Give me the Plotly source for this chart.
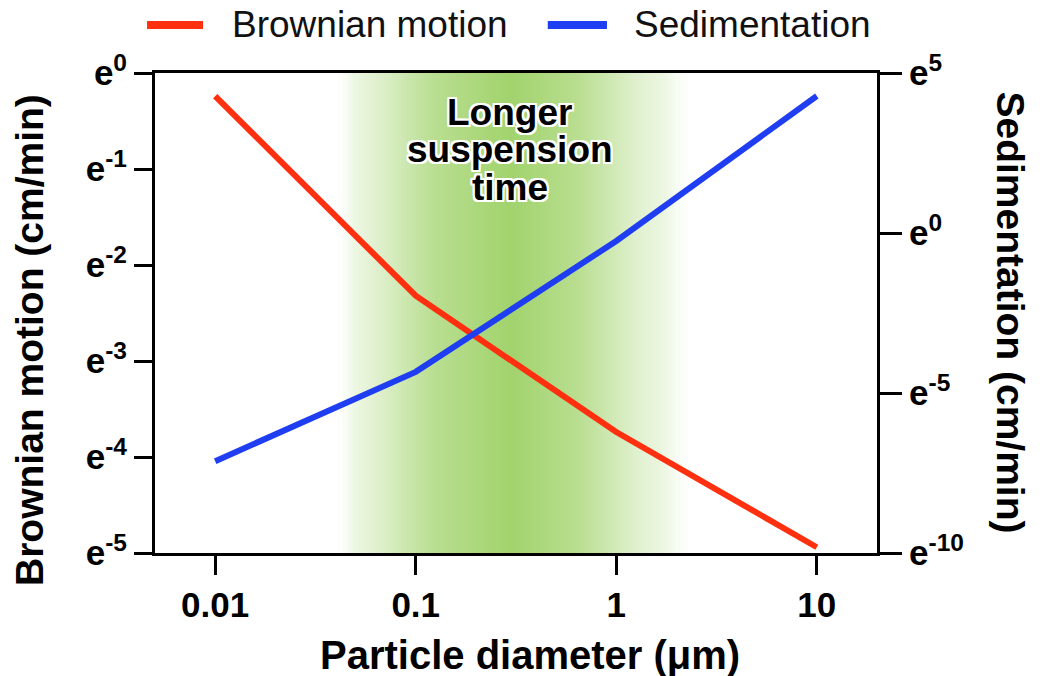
import plotly.graph_objects as go

# ---- data ----
diameter_um = [0.01, 0.1, 1, 10]
brownian_ln = [-0.24, -2.32, -3.74, -4.94]      # ln(cm/min)
sedimentation_ln = [-7.13, -4.34, -0.25, 4.28]  # ln(cm/min)

series_names = ["Brownian motion", "Sedimentation"]

left_ticks = [0, -1, -2, -3, -4, -5]
right_ticks = [5, 0, -5, -10]
x_ticks = [0.01, 0.1, 1, 10]
x_ticktext = ["0.01", "0.1", "1", "10"]

# green "longer suspension time" band (decorative gradient)
band_log_x = [-1.42, -1.2, -0.9, -0.53, -0.2, 0.1, 0.4]
band_strength = [0.0, 0.3, 0.75, 1.0, 0.75, 0.3, 0.0]

FONT = "Liberation Sans, Arial, Helvetica, sans-serif"
RED = "#ff3010"
BLUE = "#1f3ef2"

fig = go.Figure()

fig.add_trace(go.Heatmap(
    x=[10 ** v for v in band_log_x],
    y=[-5, 0],
    z=[band_strength, band_strength],
    colorscale=[[0, "rgba(255,255,255,0)"], [0.15, "#eef7e4"], [1, "#a2d36d"]],
    zmin=0, zmax=1, zsmooth="best", showscale=False, hoverinfo="skip",
    showlegend=False, xaxis="x", yaxis="y",
))

fig.add_trace(go.Scatter(
    x=diameter_um, y=brownian_ln, mode="lines", name=series_names[0],
    line=dict(color=RED, width=6), yaxis="y", showlegend=False,
))
fig.add_trace(go.Scatter(
    x=diameter_um, y=sedimentation_ln, mode="lines", name=series_names[1],
    line=dict(color=BLUE, width=6), yaxis="y2", showlegend=False,
))

tick_font = dict(family=FONT, size=35, color="black", weight="bold")
title_font = dict(family=FONT, size=39, color="black", weight="bold")

fig.update_layout(
    width=1043, height=676,
    margin=dict(l=155, r=166, t=73, b=123, autoexpand=False),
    paper_bgcolor="white", plot_bgcolor="white",
    font=dict(family=FONT, color="black"),
    showlegend=False,
    xaxis=dict(
        type="log", range=[-2.3, 1.3],
        tickvals=x_ticks, ticktext=x_ticktext,
        showline=True, linecolor="black", linewidth=3, mirror=True,
        ticks="outside", ticklen=19, tickwidth=3, tickcolor="black",
        showgrid=False, zeroline=False, tickfont=tick_font,
    ),
    yaxis=dict(
        range=[-5, 0], tickvals=left_ticks,
        ticktext=[f"e<sup>{v}</sup>" for v in left_ticks],
        showline=True, linecolor="black", linewidth=3,
        ticks="outside", ticklen=18, tickwidth=3, tickcolor="black",
        showgrid=False, zeroline=False, tickfont=tick_font,
    ),
    yaxis2=dict(
        range=[-10, 5], tickvals=right_ticks,
        ticktext=[f"e<sup>{v}</sup>" for v in right_ticks],
        overlaying="y", side="right",
        showline=True, linecolor="black", linewidth=3,
        ticks="outside", ticklen=22, tickwidth=3, tickcolor="black",
        showgrid=False, zeroline=False, tickfont=tick_font,
    ),
)

# axis titles
fig.add_annotation(
    text="Particle diameter (μm)",
    xref="paper", yref="paper", x=0.519, y=-0.2125,
    xanchor="center", yanchor="middle", showarrow=False,
    font=dict(family=FONT, size=40, color="black", weight="bold"),
)
fig.add_annotation(
    text="Brownian motion (cm/min)", textangle=-90,
    xref="paper", yref="paper", x=-0.173, y=0.444,
    xanchor="center", yanchor="middle", showarrow=False, font=title_font,
)
fig.add_annotation(
    text="Sedimentation (cm/min)", textangle=90,
    xref="paper", yref="paper", x=1.185, y=0.502,
    xanchor="center", yanchor="middle", showarrow=False, font=title_font,
)

# legend (key lines + labels above the plot)
legend_font = dict(family=FONT, size=37, color="#111")
legend_items = [(series_names[0], RED, -0.011, 0.0665, 0.104),
                (series_names[1], BLUE, 0.544, 0.626, 0.66)]
for name, col, lx0, lx1, tx in legend_items:
    fig.add_shape(type="line", xref="paper", yref="paper", x0=lx0, x1=lx1,
                  y0=1.1, y1=1.1, line=dict(color=col, width=8))
    fig.add_annotation(text=name, xref="paper", yref="paper", x=tx, y=1.1,
                       xanchor="left", yanchor="middle", showarrow=False,
                       font=legend_font)

shadow = ("2px 2px 0 white, -2px -2px 0 white, 2px -2px 0 white, -2px 2px 0 white, "
          "0 2px 0 white, 0 -2px 0 white, 2px 0 0 white, -2px 0 0 white")
label_font = dict(family=FONT, size=37, color="black", weight="bold", shadow=shadow)
for txt, yv in [("Longer", -0.41), ("suspension", -0.80), ("time", -1.19)]:
    fig.add_annotation(
        text=txt, xref="x", yref="y", x=-0.53, y=yv,
        xanchor="center", yanchor="middle", showarrow=False, font=label_font,
        borderpad=0,
    )

fig.write_html("out.html")
